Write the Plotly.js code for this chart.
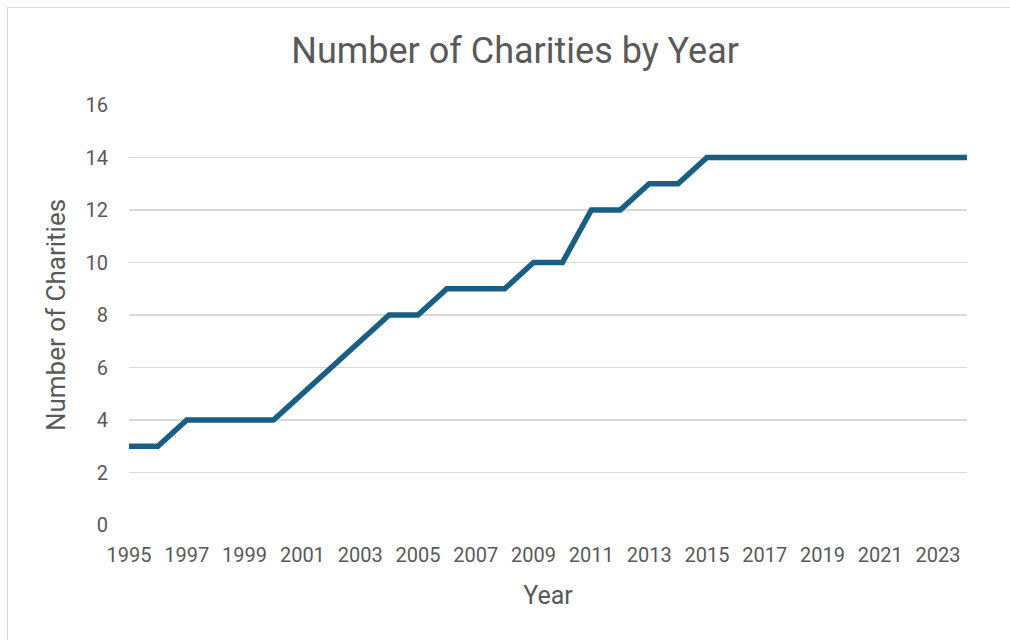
<!DOCTYPE html>
<html>
<head>
<meta charset="utf-8">
<script src="https://cdn.plot.ly/plotly-3.0.1.min.js"></script>
<style>
html,body{margin:0;padding:0;background:#fff;}
#chart{width:1010px;height:640px;position:absolute;left:0;top:0;}
#frame{position:absolute;left:7px;top:7px;width:1010px;height:640px;border:1px solid #d9d9d9;pointer-events:none;box-sizing:border-box;}
</style>
</head>
<body>
<div id="chart"></div>
<div id="frame"></div>
<script>
const years = [1995,1996,1997,1998,1999,2000,2001,2002,2003,2004,2005,2006,2007,2008,2009,2010,2011,2012,2013,2014,2015,2016,2017,2018,2019,2020,2021,2022,2023,2024];
const charities = [3,3,4,4,4,4,5,6,7,8,8,9,9,9,10,10,12,12,13,13,14,14,14,14,14,14,14,14,14,14];
const xTicks = [1995,1997,1999,2001,2003,2005,2007,2009,2011,2013,2015,2017,2019,2021,2023];
const yTicks = [0,2,4,6,8,10,12,14,16];

const font = "Roboto, 'Open Sans', sans-serif";
const grey = "#595959";

Plotly.newPlot('chart', [{
  x: years, y: charities, type: 'scatter', mode: 'lines',
  line: {color: '#195e83', width: 5.5}, hoverinfo: 'x+y'
}], {
  width: 1010, height: 640,
  margin: {l: 129, r: 43, t: 105, b: 115},
  paper_bgcolor: '#fff', plot_bgcolor: '#fff',
  showlegend: false,
  font: {family: font, color: grey},
  title: {text: 'Number of Charities by Year', font: {size: 36, color: grey, family: font}, x: 0.51, xanchor: 'center', y: 0.922, yanchor: 'middle'},
  xaxis: {
    range: [1995, 2024], tickvals: xTicks, ticktext: xTicks.map(String),
    showgrid: false, zeroline: false, showline: false, ticks: '',
    tickfont: {size: 20, color: grey}, ticklabelstandoff: 16,
    title: {text: 'Year', font: {size: 25, color: grey}, standoff: 20}
  },
  yaxis: {
    range: [0, 16], tickvals: yTicks, ticktext: yTicks.map(String),
    showgrid: true, gridcolor: '#d9d9d9', gridwidth: 1.3, zeroline: false, showline: false, ticks: '',
    tickfont: {size: 20, color: grey}, ticklabelstandoff: 20,
    title: {text: 'Number of Charities', font: {size: 26, color: grey}, standoff: 12}
  }
}, {displayModeBar: false, staticPlot: true});
</script>
</body>
</html>
